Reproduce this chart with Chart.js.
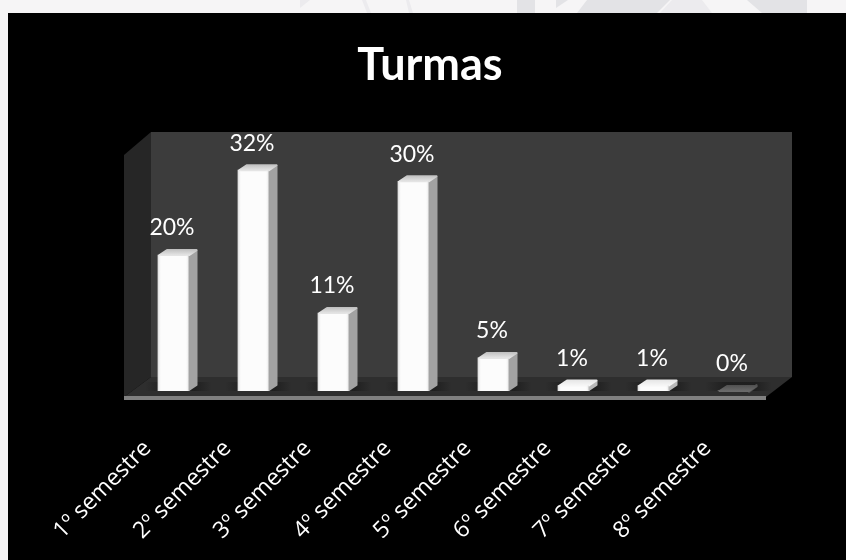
<!DOCTYPE html>
<html>
<head>
<meta charset="utf-8">
<style>
html,body{margin:0;padding:0;background:#f6f5f6;width:846px;height:560px;overflow:hidden}
#wrap{position:absolute;left:0;top:0;width:846px;height:560px}
</style>
<script src="https://cdn.jsdelivr.net/npm/chart.js@4"></script>
</head>
<body>
<div id="wrap"><canvas id="c" width="846" height="560"></canvas></div>
<script>
const categories = ['1º semestre','2º semestre','3º semestre','4º semestre','5º semestre','6º semestre','7º semestre','8º semestre'];
const values = [19.7, 32, 11.3, 30.4, 4.8, 0.8, 0.8, 0];
const valueLabels = ['20%','32%','11%','30%','5%','1%','1%','0%'];
const chartTitle = 'Turmas';

const DX = 8.5, DY = 6;

function poly(ctx, pts, fill, radius){
  ctx.beginPath();
  pts.forEach((p,i)=> i ? ctx.lineTo(p[0],p[1]) : ctx.moveTo(p[0],p[1]));
  ctx.closePath();
  ctx.fillStyle = fill;
  ctx.fill();
  if(radius){
    ctx.strokeStyle = fill;
    ctx.lineJoin = 'round';
    ctx.lineWidth = radius;
    ctx.stroke();
  }
}

const scenePlugin = {
  id:'scene',
  beforeDraw(chart){
    const ctx = chart.ctx, w = chart.width, h = chart.height;
    ctx.save();
    ctx.fillStyle = '#f6f5f6';
    ctx.fillRect(0,0,w,h);
    const g1 = '#e3e3e6', g2 = '#ecebee';
    poly(ctx, [[517,0],[535,0],[535,13],[517,13]], g1);
    poly(ctx, [[587,0],[670,0],[657,13],[577,13]], g1);
    poly(ctx, [[556,0],[568,0],[556,8]], g1);
    poly(ctx, [[672,0],[702,0],[712,13],[660,13]], g2);
    poly(ctx, [[747,0],[807,0],[807,13],[762,13]], g1);
    poly(ctx, [[362,0],[366,0],[371,13],[367,13]], g2);
    poly(ctx, [[406,0],[409,0],[413,13],[409,13]], g2);
    poly(ctx, [[300,0],[310,0],[300,8]], g2);
    ctx.fillStyle = '#000000';
    ctx.fillRect(8,13,w-8,h-13);
    ctx.restore();
  },
  beforeDatasetsDraw(chart){
    const ctx = chart.ctx, a = chart.chartArea;
    const bx = a.bottom;
    ctx.save();
    poly(ctx, [[151,132],[792,132],[792,bx-14],[151,bx-14]], '#3c3c3c');
    poly(ctx, [[124,155],[151,132],[151,bx-14],[124,bx+6]], '#262626');
    poly(ctx, [[151,bx-14],[792,bx-14],[766,bx+6],[124,bx+6]], '#2e2e2e');
    ctx.fillStyle = '#808080';
    ctx.fillRect(124,bx+5,642,4);
    const meta = chart.getDatasetMeta(0);
    meta.data.forEach(el=>{
      const p = el.getProps(['x','width']);
      const g = ctx.createLinearGradient(p.x-28,0,p.x+38,0);
      g.addColorStop(0,'rgba(30,30,30,0)');
      g.addColorStop(0.3,'rgba(30,30,30,.9)');
      g.addColorStop(0.75,'rgba(30,30,30,.9)');
      g.addColorStop(1,'rgba(30,30,30,0)');
      ctx.fillStyle = g;
      ctx.fillRect(p.x-28,bx-9,66,9);
    });
    ctx.restore();
  },
  afterDatasetsDraw(chart){
    const ctx = chart.ctx;
    const meta = chart.getDatasetMeta(0);
    ctx.save();
    meta.data.forEach((el,i)=>{
      const p = el.getProps(['x','y','base','width']);
      const l = p.x - p.width/2, r = p.x + p.width/2, t = p.y, b = p.base;
      const empty = values[i] === 0;
      const small = values[i] < 2;
      const c = empty ? '#4e4e4e' : (small ? '#b8b8b8' : '#a2a2a2');
      poly(ctx, [[r,t+1],[r+DX-1,t-DY+1.5],[r+DX-1,b-DY],[r,b-1]], c, 2);
      const g = ctx.createLinearGradient(0,t-DY,0,t);
      g.addColorStop(0, empty ? '#505050' : (small ? '#e4e4e4' : '#bebebe'));
      g.addColorStop(1, empty ? '#6a6a6a' : (small ? '#f6f6f6' : '#e4e4e4'));
      poly(ctx, [[l+1.5,t],[l+DX+0.5,t-DY+1],[r+DX-1,t-DY+1],[r,t]], g, 2);
      if(!empty){
        const f = ctx.createLinearGradient(l,0,r,0);
        f.addColorStop(0,'rgba(215,215,215,.8)');
        f.addColorStop(0.12,'rgba(255,255,255,0)');
        f.addColorStop(0.88,'rgba(255,255,255,0)');
        f.addColorStop(1,'rgba(215,215,215,.8)');
        ctx.fillStyle = f;
        ctx.fillRect(l,t,p.width,b-t);
      }
      ctx.fillStyle = '#ffffff';
      ctx.font = '23px Lato';
      ctx.textAlign = 'center';
      ctx.textBaseline = 'middle';
      ctx.fillText(valueLabels[i], p.x-1.5, t-27);
    });
    ctx.restore();
  }
};

new Chart(document.getElementById('c'), {
  type:'bar',
  data:{ labels:categories, datasets:[{ data:values, backgroundColor:'#fcfcfc', borderWidth:0, barThickness:31 }] },
  options:{
    responsive:false,
    animation:false,
    layout:{ padding:{ left:86.5, right:72.5, top:0, bottom:0 } },
    plugins:{
      legend:{display:false},
      tooltip:{enabled:false},
      title:{
        display:true, text:chartTitle, color:'#ffffff',
        font:{family:'Lato', size:45, weight:'bold', lineHeight:1.2},
        padding:{top:38,bottom:57.5}
      }
    },
    scales:{
      y:{
        min:0, max:35,
        grid:{display:false}, border:{display:false},
        ticks:{display:false},
        afterFit(s){ s.width = 47; }
      },
      x:{
        grid:{display:false}, border:{display:false},
        afterFit(s){ s.height = 169; },
        ticks:{ color:'#ffffff', font:{family:'Open Sans', size:23}, minRotation:45, maxRotation:45, padding:36, labelOffset:-26, autoSkip:false }
      }
    }
  },
  plugins:[scenePlugin]
});
</script>
</body>
</html>
